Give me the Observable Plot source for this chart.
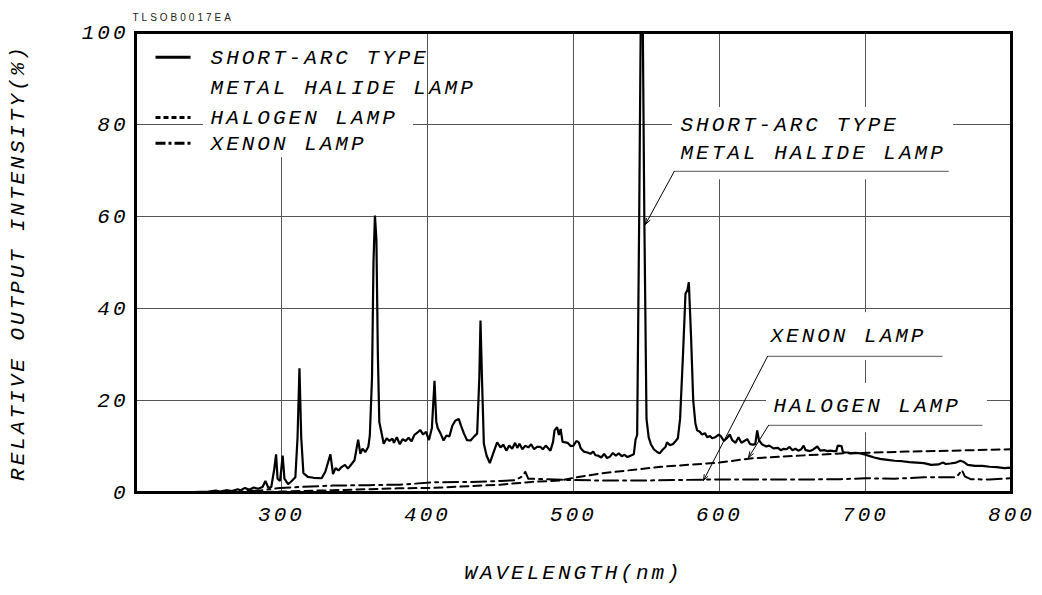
<!DOCTYPE html>
<html>
<head>
<meta charset="utf-8">
<script src="https://cdn.jsdelivr.net/npm/d3@7"></script>
<script src="https://cdn.jsdelivr.net/npm/@observablehq/plot@0.6"></script>
<style>
  html, body { margin: 0; padding: 0; background: #fff; }
  #chart { width: 1042px; height: 595px; }
</style>
</head>
<body>
<div id="chart"></div>
<script>
// ---------------- data ----------------
const xTicks = [300, 400, 500, 600, 700, 800];
const yTicks = [0, 20, 40, 60, 80, 100];

// Short-arc type metal halide lamp
const mhWl = [200,220,240,250,255,258,262,266,270,272,275,278,281,284,287,289,291,293,295,296.3,297.3,299,300.8,302,304.5,307,309.5,311,312.3,313.5,315,318,322,327.5,330,333.5,335.3,337,339,341,343.5,345.5,348,350,352.5,354,355.5,357.5,359.5,360.5,362,363,364,365,366,367,368.5,370,372,374,376,377,379,381,383,385,387,389,391,393,395,397,399,401,403,404.8,406,407,409,411,413,415,417,419,421.4,423,425,427,429.5,432,434,435.5,436.3,437.3,438.6,440.5,442.7,445,447.7,450,452,454,456,458,460,461.5,463,465,467,469,471,473,475,477.4,479,481,484.2,486,487,488.8,490,491.2,492.5,494.5,496,498,500,502,503.6,505,507,509.5,511.6,513.5,515,517,519,521,523,525,527,529,531,533,535,537,539,541.3,542.5,543.6,545,546,547.5,548.5,550,551.5,553,555,557.3,559,561,563,564,566,568,570,571.5,573,575,576.7,578,579,580.5,582,583.5,584.7,586.5,588,590,591.6,593.5,595,597,599.5,601,603,605,607,608.7,611,613,615,617,619,621,623,624.5,625.8,627,629,632,634,637,640,642,644,646,648,650,652,654,656,657.6,659,662,664,667,669,672,674,676,678,680,681,683.6,684.5,686,688,690,693,696.6,700,703,706,710,715,720,725,730,735,740,745,750,753,755,758,762,765,767,770,775,780,785,790,795,800];
const mhVal = [0,0,0.1,0.2,0.4,0.2,0.5,0.3,0.7,0.5,1.0,0.6,1.1,0.8,1.2,2.5,1.0,1.2,5,8.3,3,2.5,8,3,1.8,2.5,3.3,12,27,12,4.2,3.4,3.2,3.1,4.5,8.3,4.0,5.3,4.8,5.5,6.0,5.2,6.2,7.0,11.5,8.4,9.5,8.8,10,12.4,25,50,60.2,55,30,15.3,13,10.6,11.8,11.2,11.7,10.8,12,10.5,11.6,11.2,11.9,11.1,12.5,13,13.6,12.6,13.2,11.4,14,24.3,15.4,14.0,12.8,11.3,12.4,12.2,14.5,15.6,16,14.5,12.8,11.4,11.3,12.2,12.8,25,37.4,25,10.6,8,6.4,8.5,10.9,9.8,10.4,9.1,10.2,9.5,10.8,9.7,10.6,9.4,10.2,9.8,10.5,9.4,9.9,9.9,9.4,10.2,9.1,11,13.5,14.2,12.5,13.8,11,10.9,10.8,10.1,10.2,11.2,10.9,9.6,8.9,8.7,8.4,8.9,8.1,8.0,7.6,8.4,7.5,7.8,8.6,8.0,8.5,7.9,8.2,7.7,8.0,8.3,11.5,12.5,60,100,100,60,16,12,10.5,9.4,8.8,8.5,9.3,9.9,10.9,10.3,10.5,11.2,11.8,16,30,43.2,44,45.7,34,20,15,13.5,13.2,12.6,12.9,12,12.3,11.8,12.0,12.6,12.2,11.2,11.8,12.6,11.4,10.8,12.0,10.8,11.2,11.6,10.5,10.4,10.5,13.5,11.4,10.5,10.0,10.2,9.6,9.7,9.2,9.5,9.4,9.9,9.2,9.5,9.1,9.4,10.2,9.2,9.0,9.3,10.0,9.1,9.2,9.0,9.1,9.0,9.0,10.2,10.1,8.8,8.7,8.7,8.5,8.6,8.5,8.2,7.9,7.6,7.3,7.1,6.9,6.8,6.6,6.5,6.4,6.0,6.1,6.5,6.2,6.3,6.5,6.9,6.7,6.0,5.8,5.8,5.6,5.5,5.3,5.4];

// Halogen lamp
const halWl  = [200,280,300,335,380,404,430,450,471,491,500,520,546,560,591,600,621,660,683,697,728,760,800];
const halVal = [0,0,0.2,0.5,0.9,1.0,1.4,1.7,2.3,2.6,3.2,4.2,5.1,5.6,6.3,6.5,7.4,8.1,8.5,8.6,8.9,9.1,9.4];

// Xenon lamp
const xenWl  = [200,240,260,285,299,320,335,360,381,404,430,450,460,465,467,469,480,500,520,546,590,620,650,683,700,720,740,762,764,766,768,772,785,800];
const xenVal = [0,0,0.1,0.4,1.0,1.3,1.5,1.6,1.7,2.2,2.3,2.5,2.7,3.5,4.5,3.0,2.9,2.7,2.6,2.6,2.8,2.8,2.8,2.9,3.1,3.0,3.3,3.3,4.0,4.9,3.5,2.9,2.8,3.1];

// Legend labels
const legendLabels = ["SHORT-ARC TYPE", "METAL HALIDE LAMP", "HALOGEN LAMP", "XENON LAMP"];
const legendY = [94.6, 88.0, 81.5, 75.9];

// Callouts (data units): label position, underline, arrow tip
const calloutLines = [
  {text: ["SHORT-ARC TYPE", "METAL HALIDE LAMP"], tx: 573.3, ty: [80, 73.9], ux1: 569, ux2: 757, uy: 69.8, ax: 549.3, ay: 58.3},
  {text: ["XENON LAMP"], tx: 634.9, ty: [34.1], ux1: 632.9, ux2: 752.7, uy: 29.6, ax: 589, ay: 2.6},
  {text: ["HALOGEN LAMP"], tx: 637, ty: [18.9], ux1: 633.6, ux2: 780.1, uy: 14.6, ax: 619.9, ay: 7.6}
];
// white boxes hiding grid behind text (data units)
const blankBoxes = [
  {x1: 246.6, x2: 390.4, y1: 72.8, y2: 100},
  {x1: 567.8, x2: 760.3, y1: 68.0, y2: 83.7},
  {x1: 632.2, x2: 754.8, y1: 28.7, y2: 39.1},
  {x1: 632.2, x2: 783.6, y1: 13.0, y2: 23.7}
];
const legendX = {x1: 213.7, x2: 237.7, text: 251.4};

// ---------------- build ----------------
const mh  = mhWl.map((w, i) => ({wl: w, v: mhVal[i]}));
const hal = halWl.map((w, i) => ({wl: w, v: halVal[i]}));
const xen = xenWl.map((w, i) => ({wl: w, v: xenVal[i]}));
const legend = legendLabels.map((label, i) => ({label, y: legendY[i]}));

const FONT = "'Liberation Mono', 'DejaVu Sans Mono', monospace";
const calloutText = calloutLines.flatMap(c => c.text.map((t, j) => ({t, x: c.tx, y: c.ty[j]})));

const legendSample = (row, dash) => Plot.link([row], {
  x1: () => legendX.x1, x2: () => legendX.x2, y1: "y", y2: "y",
  stroke: "#000", strokeWidth: 3, strokeDasharray: dash
});

const chart = Plot.plot({
  width: 1042,
  height: 595,
  marginLeft: 135,
  marginRight: 31,
  marginTop: 32,
  marginBottom: 103,
  style: {fontFamily: FONT, fontStyle: "italic", fontSize: "21px", letterSpacing: "3px", color: "#000", background: "#fff"},
  x: {domain: [200, 800]},
  y: {domain: [0, 100]},
  marks: [
    Plot.gridX(xTicks, {stroke: "#555", strokeOpacity: 1, strokeWidth: 1}),
    Plot.gridY(yTicks, {stroke: "#555", strokeOpacity: 1, strokeWidth: 1}),
    Plot.rect(blankBoxes, {x1: "x1", x2: "x2", y1: "y1", y2: "y2", fill: "white"}),
    Plot.line(hal, {x: "wl", y: "v", stroke: "#000", strokeWidth: 2, strokeDasharray: "8,5", clip: true}),
    Plot.line(xen, {x: "wl", y: "v", stroke: "#000", strokeWidth: 2, strokeDasharray: "15,5,3,5", clip: true}),
    Plot.line(mh, {x: "wl", y: "v", stroke: "#000", strokeWidth: 2.2, strokeLinejoin: "miter", clip: true}),
    // callouts
    Plot.link(calloutLines, {x1: "ux1", x2: "ux2", y1: "uy", y2: "uy", stroke: "#777", strokeWidth: 1.2}),
    Plot.arrow(calloutLines, {x1: "ux1", y1: "uy", x2: "ax", y2: "ay", stroke: "#000", strokeWidth: 1, headLength: 9, headAngle: 40}),
    Plot.text(calloutText, {x: "x", y: "y", text: "t", textAnchor: "start", fill: "#000"}),
    // legend
    legendSample(legend[0], null),
    legendSample(legend[2], "5,3"),
    legendSample(legend[3], "10,3,3,3"),
    Plot.text(legend, {x: () => legendX.text, y: "y", text: "label", textAnchor: "start", fill: "#000"}),
    Plot.frame({stroke: "#000", strokeWidth: 3}),
    Plot.axisX(xTicks, {tickSize: 0, tickPadding: 14, label: null, fontSize: 21}),
    Plot.axisY(yTicks, {tickSize: 0, tickPadding: 7, label: null, fontSize: 21}),
    Plot.text(["WAVELENGTH(nm)"], {frameAnchor: "bottom", dy: 86, textAnchor: "middle", fill: "#000"}),
    Plot.text(["RELATIVE OUTPUT INTENSITY(%)"], {frameAnchor: "left", dx: -118, rotate: -90, textAnchor: "middle", fill: "#000"}),
    Plot.text(["TLSOB0017EA"], {frameAnchor: "top-left", dx: -3, dy: -19, textAnchor: "start", fontFamily: "'Liberation Sans', Arial, sans-serif", fontStyle: "normal", fontSize: 10, letterSpacing: 0, fill: "#222"})
  ]
});
document.getElementById("chart").appendChild(chart);
</script>
</body>
</html>
